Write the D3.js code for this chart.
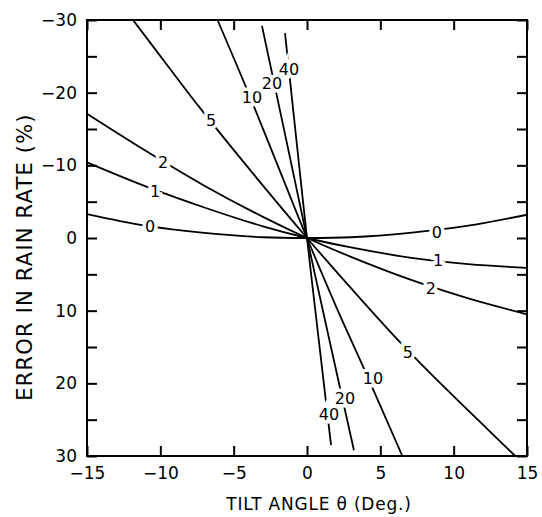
<!DOCTYPE html>
<html>
<head>
<meta charset="utf-8">
<script src="https://cdn.jsdelivr.net/npm/d3@7"></script>
<style>
  body { margin: 0; background: #fff; }
  text { font-family: "DejaVu Sans", sans-serif; fill: #000; }
</style>
</head>
<body>
<svg id="chart" width="542" height="517"></svg>
<script>
// curves: [tilt angle (deg), error in rain rate (%)]
const curve0 = [[-15, -3.3], [-11, -1.7], [-7, -0.7], [-3, -0.1], [0, 0], [3, -0.1], [7, -0.7], [11, -1.7], [15, -3.2]]
const curve1 = [[-15, -10.4], [-11, -7.1], [-7, -4.2], [-3, -1.6], [0, 0], [3, 1.3], [7, 2.7], [11, 3.6], [15, 4.1]]
const curve2 = [[-15, -17.1], [-11, -12.0], [-7, -7.2], [-3, -2.9], [0, 0], [3, 2.6], [7, 5.7], [11, 8.3], [15, 10.5]]
const curve5 = [[-11.86, -30], [-9.5, -23.7], [-7.3, -17.9], [-3, -7.2], [0, 0], [3, 6.9], [6, 13.6], [8.4, 18.6], [12.3, 26.3], [14.2, 30]]
const curve10 = [[-6.1, -30], [-4, -20], [-2, -10], [0, 0], [2, 9.5], [4, 18.5], [6.5, 30]]
const curve20 = [[-3.07, -29.2], [-1.5, -14.3], [0, 0], [1.5, 13.8], [3.2, 29.2]]
const curve40 = [[-1.5, -28.2], [-0.75, -14], [0, 0], [0.8, 14], [1.64, 28.5]]

const curveData = [curve0, curve1, curve2, curve5, curve10, curve20, curve40]

// where each curve's label sits, in data units
const labelSpots = [
  ["0", -10.7, -1.65], ["0", 8.86, -0.69],
  ["1", -10.36, -6.46], ["1", 8.93, 3.16],
  ["2", -9.82, -10.45], ["2", 8.45, 7.0],
  ["5", -6.54, -16.2], ["5", 6.88, 15.8],
  ["10", -3.75, -19.3], ["10", 4.5, 19.3],
  ["20", -2.39, -21.2], ["20", 2.59, 22.1],
  ["40", -1.23, -23.2], ["40", 1.5, 24.3]
]

const xTicks = [-15, -10, -5, 0, 5, 10, 15]
const yTicks = [-30, -25, -20, -15, -10, -5, 0, 5, 10, 15, 20, 25, 30]
const yLabelTicks = [-30, -20, -10, 0, 10, 20, 30]

const svg = d3.select("#chart")

function make_scales() {
  return {
    x: d3.scaleLinear().domain([-15, 15]).range([87, 527]),
    y: d3.scaleLinear().domain([-30, 30]).range([20, 456])
  }
}

const s = make_scales()
const fmt = d => d < 0 ? "\u2212" + Math.abs(d) : String(d)

// axes, ticks pointing inward
function draw_axes() {
  const bottom = svg.append("g").attr("transform", `translate(0, ${s.y(30)})`)
    .call(d3.axisBottom(s.x).tickValues(xTicks).tickSize(-10).tickPadding(11).tickFormat(fmt))
  const top = svg.append("g").attr("transform", `translate(0, ${s.y(-30)})`)
    .call(d3.axisTop(s.x).tickValues(xTicks).tickSize(-10).tickFormat(""))
  const left = svg.append("g").attr("transform", `translate(${s.x(-15)}, 0)`)
    .call(d3.axisLeft(s.y).tickValues(yTicks).tickSize(-10).tickPadding(10)
      .tickFormat(d => yLabelTicks.includes(d) ? fmt(d) : ""))
  const right = svg.append("g").attr("transform", `translate(${s.x(15)}, 0)`)
    .call(d3.axisRight(s.y).tickValues(yTicks).tickSize(-10).tickFormat(""))

  for (const g of [bottom, top, left, right]) {
    g.select(".domain").remove()
    g.selectAll("line").attr("stroke", "#000").attr("stroke-width", 2)
    g.selectAll("text").style("font-size", "17px").attr("fill", "#000")
  }

  svg.append("rect")
    .attr("x", s.x(-15)).attr("y", s.y(-30))
    .attr("width", s.x(15) - s.x(-15)).attr("height", s.y(30) - s.y(-30))
    .attr("fill", "none").attr("stroke", "#000").attr("stroke-width", 2)
}

function draw_curves() {
  const line = d3.line()
    .x(d => s.x(d[0]))
    .y(d => s.y(d[1]))
    .curve(d3.curveCatmullRom)

  svg.append("g")
    .selectAll("path")
    .data(curveData).enter()
    .append("path")
    .attr("d", line)
    .attr("fill", "none")
    .attr("stroke", "#000")
    .attr("stroke-width", 1.8)
}

function draw_labels() {
  svg.append("g")
    .selectAll("text")
    .data(labelSpots).enter()
    .append("text")
    .attr("x", d => s.x(d[1]))
    .attr("y", d => s.y(d[2]))
    .attr("text-anchor", "middle")
    .attr("dominant-baseline", "central")
    .style("font-size", "16px")
    .style("paint-order", "stroke")
    .attr("stroke", "#fff")
    .attr("stroke-width", 7)
    .text(d => d[0])
}

draw_curves()
draw_axes()
draw_labels()

// axis titles
svg.append("text")
  .attr("x", 319).attr("y", 510)
  .attr("text-anchor", "middle")
  .style("font-size", "17px")
  .style("letter-spacing", "0.8px")
  .text("TILT ANGLE \u03B8 (Deg.)")

svg.append("text")
  .attr("transform", "translate(32, 257) rotate(-90)")
  .attr("text-anchor", "middle")
  .style("font-size", "21px")
  .style("letter-spacing", "1.2px")
  .text("ERROR IN RAIN RATE (%)")
</script>
</body>
</html>
